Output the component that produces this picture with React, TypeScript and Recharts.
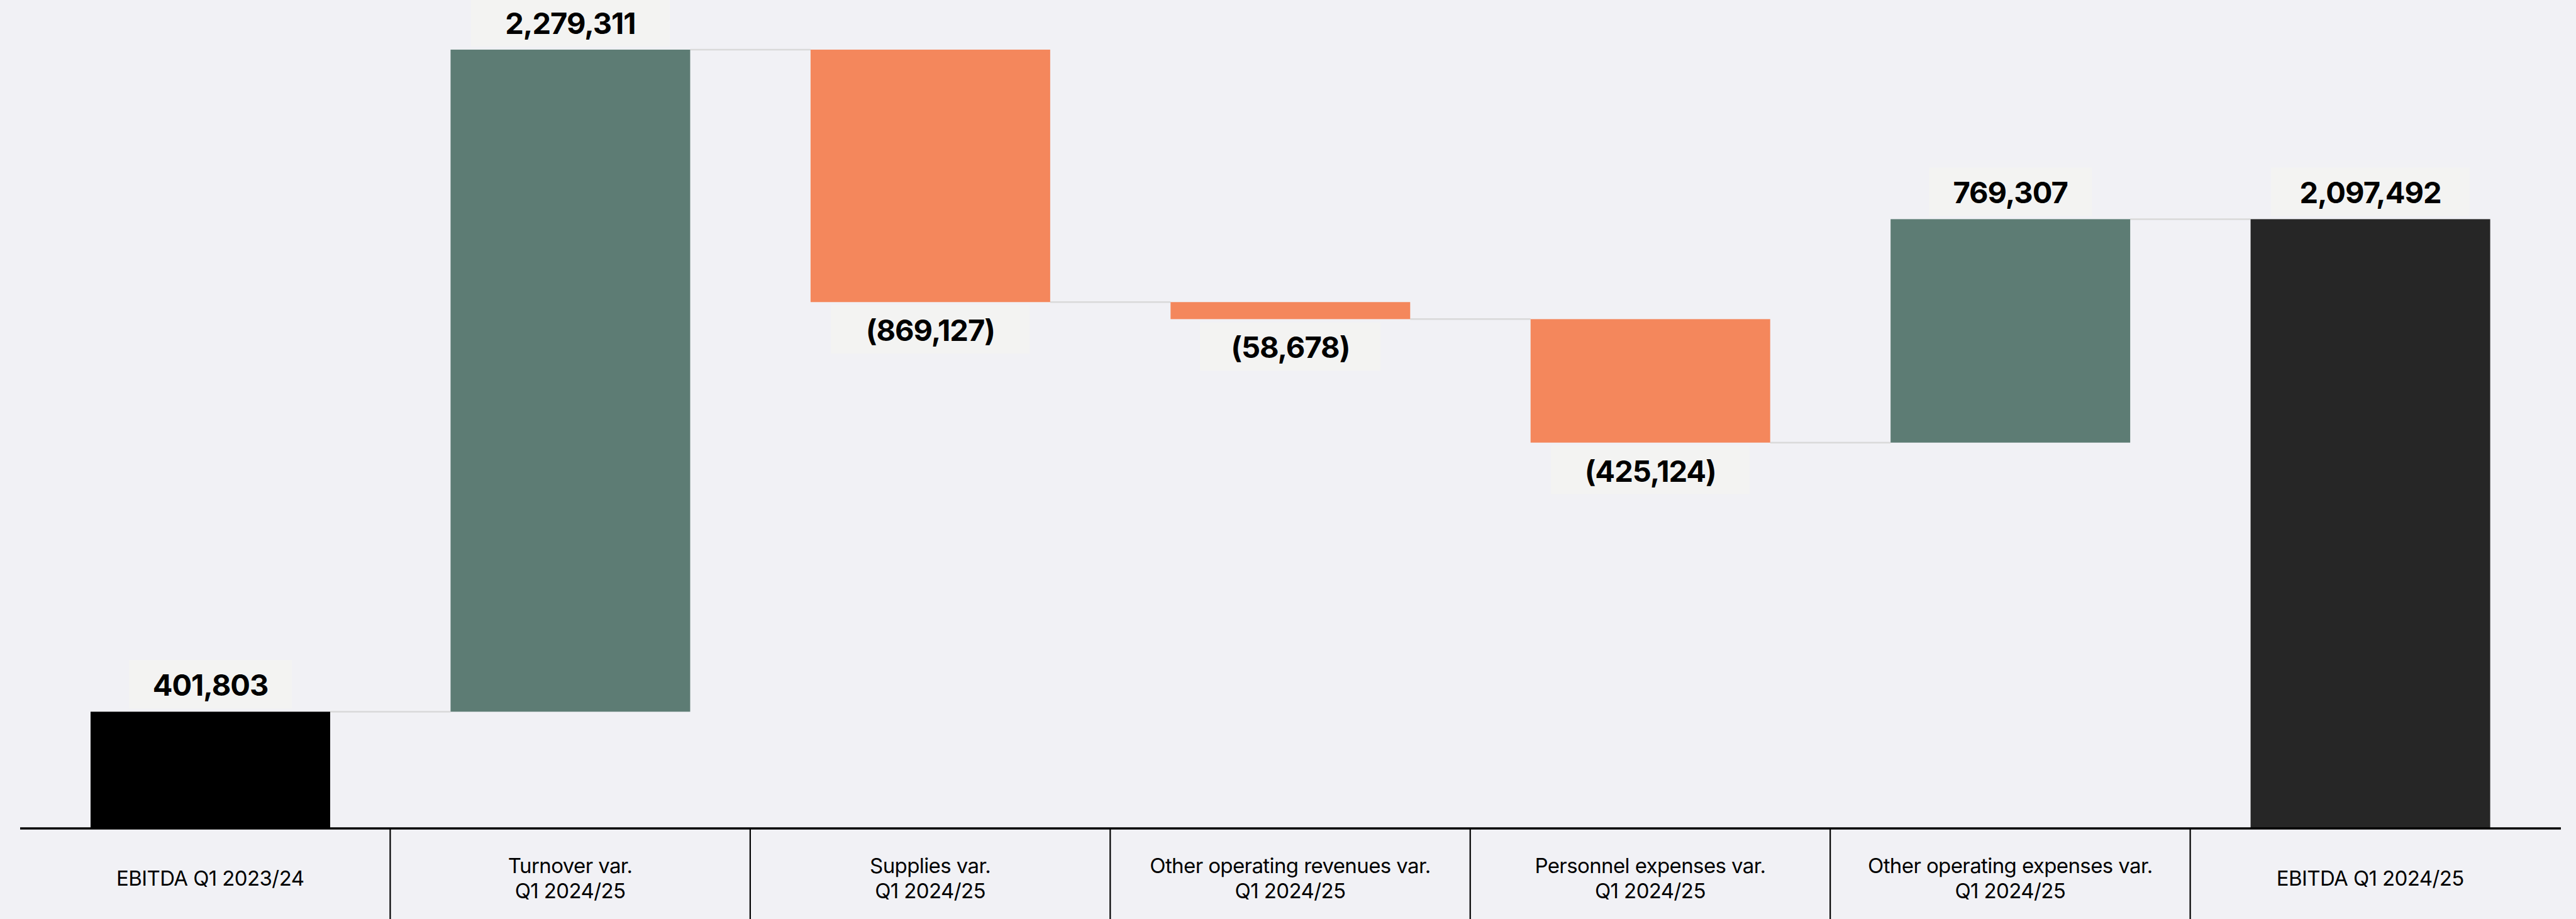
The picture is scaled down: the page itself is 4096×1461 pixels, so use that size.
import React from "react";
import { BarChart, Bar, XAxis, YAxis } from "recharts";

const categories = [
  "EBITDA Q1 2023/24",
  "Turnover var.\nQ1 2024/25",
  "Supplies var.\nQ1 2024/25",
  "Other operating revenues var.\nQ1 2024/25",
  "Personnel expenses var.\nQ1 2024/25",
  "Other operating expenses var.\nQ1 2024/25",
  "EBITDA Q1 2024/25",
];
const values = [401803, 2279311, -869127, -58678, -425124, 769307, 2097492];
const kinds = ["start", "delta", "delta", "delta", "delta", "delta", "end"];

const COLORS: Record<string, string> = {
  start: "#000000",
  up: "#5d7c74",
  down: "#f4875c",
  end: "#262626",
};

const W = 4096;
const H = 1461;
const M = { top: 24, right: 24, left: 32, bottom: 0 };
const PAD = { left: 16, right: 17 };
const AXIS_H = 144;
const STEP = (W - M.left - M.right - PAD.left - PAD.right) / categories.length;
const BAR = 381;
const FONT = "Inter, 'Noto Sans', sans-serif";

let running = 0;
const data = categories.map((name, i) => {
  const v = values[i];
  const k = kinds[i];
  let low: number, high: number;
  if (k === "start" || k === "end") {
    low = 0;
    high = v;
    running = v;
  } else {
    const next = running + v;
    low = Math.min(running, next);
    high = Math.max(running, next);
    running = next;
  }
  const color = k === "delta" ? (v >= 0 ? COLORS.up : COLORS.down) : COLORS[k];
  return { name, value: v, kind: k, range: [low, high], color };
});

const fmt = (v: number) => {
  const s = Math.abs(v).toLocaleString("en-US");
  return v < 0 ? `(${s})` : s;
};

const Shape = (props: any) => {
  const { x, y, width, height, payload, index } = props;
  const top = Math.min(y, y + height);
  const h = Math.abs(height);
  const bottom = top + h;
  const v: number = payload.value;
  const neg = v < 0;
  const endY = neg ? bottom : top;
  const cx = x + width / 2;
  const label = fmt(v);
  const fs = 47;
  const boxW = label.length * fs * 0.6 + 62;
  const boxH = 77;
  const boxY = neg ? bottom + 5 : top - 5 - boxH;
  const textY = neg ? bottom + 62 : top - 25;
  const last = index === data.length - 1;
  return (
    <g>
      {!last && (
        <line
          x1={x + width}
          x2={x + width + (STEP - BAR)}
          y1={endY}
          y2={endY}
          stroke="#d9d9d9"
          strokeWidth={2.5}
        />
      )}
      <rect x={x} y={top} width={width} height={h} fill={payload.color} />
      <rect x={cx - boxW / 2} y={boxY} width={boxW} height={boxH} fill="#f3f3f2" />
      <text
        x={cx}
        y={textY}
        textAnchor="middle"
        fontFamily={FONT}
        fontWeight={700}
        fontSize={fs}
        letterSpacing={-1}
        fill="#000"
      >
        {label}
      </text>
    </g>
  );
};

const Tick = (props: any) => {
  const { x, y, payload, index } = props;
  const lines: string[] = String(payload.value).split("\n");
  const baselines = lines.length === 1 ? [91] : [71, 111];
  return (
    <g>
      {index > 0 && (
        <line
          x1={x - STEP / 2}
          x2={x - STEP / 2}
          y1={y}
          y2={y + AXIS_H}
          stroke="#000"
          strokeWidth={2.2}
        />
      )}
      <text
        x={x}
        textAnchor="middle"
        fontFamily={FONT}
        fontSize={33}
        letterSpacing={-0.6}
        fill="#000"
      >
        {lines.map((l, i) => (
          <tspan key={i} x={x} y={y + baselines[i]}>
            {l}
          </tspan>
        ))}
      </text>
    </g>
  );
};

export default function App() {
  return (
    <div
      style={{
        position: "absolute",
        left: 0,
        top: 0,
        width: W,
        height: H,
        background: "#f1f1f5",
        overflow: "hidden",
      }}
    >
      <BarChart width={W} height={H} data={data} margin={M} barSize={BAR}>
        <XAxis
          dataKey="name"
          interval={0}
          height={AXIS_H}
          padding={PAD}
          tickLine={false}
          tickSize={0}
          tickMargin={0}
          axisLine={{ stroke: "#000", strokeWidth: 3.5 }}
          tick={<Tick />}
        />
        <YAxis hide domain={[0, 2800000]} />
        <Bar dataKey="range" isAnimationActive={false} shape={<Shape />} />
      </BarChart>
    </div>
  );
}
